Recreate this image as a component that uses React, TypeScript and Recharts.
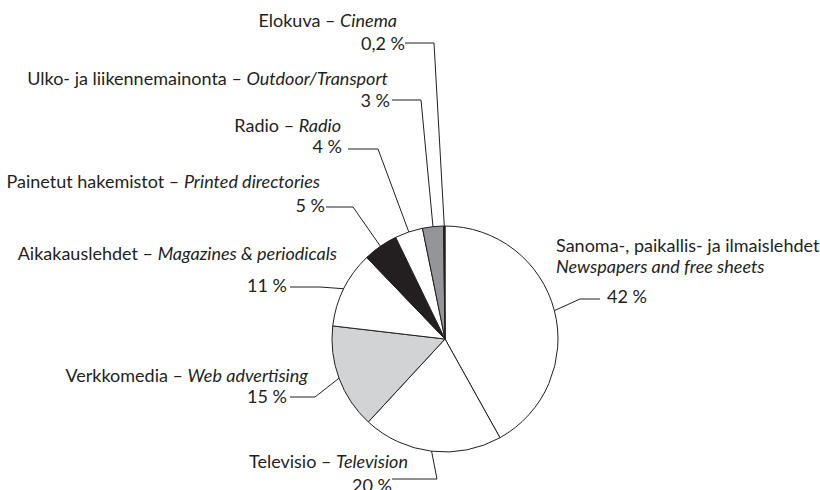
import React from 'react'
import { PieChart, Pie, Cell } from 'recharts'

const fiNames = [
  'Sanoma-, paikallis- ja ilmaislehdet',
  'Televisio',
  'Verkkomedia',
  'Aikakauslehdet',
  'Painetut hakemistot',
  'Radio',
  'Ulko- ja liikennemainonta',
  'Elokuva',
]
const enNames = [
  'Newspapers and free sheets',
  'Television',
  'Web advertising',
  'Magazines & periodicals',
  'Printed directories',
  'Radio',
  'Outdoor/Transport',
  'Cinema',
]
const shares = [42, 20, 15, 11, 5, 4, 3, 0.2]

const INK = '#231f20'
const sliceFills = ['#ffffff', '#ffffff', '#d1d3d4', '#ffffff', INK, '#ffffff', '#939598', INK]

// leader elbow (ex, ey), line end (lx), title anchor (tx, ty), percent anchor (px, py)
// all relative to the pie centre
const labelLayout = [
  { ex: 135, ey: -40, lx: 155, tx: 111, ty: -87, px: 162, py: -36, anchor: 'start', split: true },
  { ex: -8, ey: 140, lx: -53, tx: -37, ty: 129, px: -53, py: 153, anchor: 'end' },
  { ex: -130, ey: 58, lx: -155, tx: -137, ty: 43, px: -158, py: 64, anchor: 'end' },
  { ex: -125, ey: -52, lx: -155, tx: -108, ty: -79, px: -158, py: -47, anchor: 'end' },
  { ex: -92, ey: -132, lx: -119, tx: -125, ty: -151, px: -120, py: -127, anchor: 'end' },
  { ex: -67, ey: -190, lx: -97, tx: -104, ty: -207, px: -103, py: -186, anchor: 'end' },
  { ex: -24, ey: -239, lx: -53, tx: -57, ty: -254, px: -55, py: -232, anchor: 'end' },
  { ex: -11, ey: -296, lx: -40, tx: -48, ty: -312, px: -40, py: -289, anchor: 'end' },
]

const data = shares.map((value, i) => ({ name: fiNames[i], en: enNames[i], value }))

const FONT = 'Lato, "Open Sans", sans-serif'
const FS = 18
const RAD = Math.PI / 180

const fmtPct = (v: number) => `${String(v).replace('.', ',')} %`

const renderLabel = (props: any) => {
  const { cx, cy, midAngle, outerRadius, index } = props
  const l = labelLayout[index]
  const sx = cx + outerRadius * Math.cos(-midAngle * RAD)
  const sy = cy + outerRadius * Math.sin(-midAngle * RAD)
  const pts = `${sx},${sy} ${cx + l.ex},${cy + l.ey} ${cx + l.lx},${cy + l.ey}`
  const d = data[index]
  return (
    <g key={`lbl-${index}`}>
      <polyline points={pts} fill="none" stroke={INK} strokeWidth={1} />
      {l.split ? (
        <>
          <text x={cx + l.tx} y={cy + l.ty} textAnchor={l.anchor} fontSize={FS} fill={INK} fontFamily={FONT}>
            {d.name}
          </text>
          <text x={cx + l.tx} y={cy + l.ty + 21} textAnchor={l.anchor} fontSize={FS} fill={INK} fontFamily={FONT} fontStyle="italic">
            {d.en}
          </text>
        </>
      ) : (
        <text x={cx + l.tx} y={cy + l.ty} textAnchor={l.anchor} fontSize={FS} fill={INK} fontFamily={FONT}>
          <tspan>{`${d.name} – `}</tspan>
          <tspan fontStyle="italic">{d.en}</tspan>
        </text>
      )}
      <text x={cx + l.px} y={cy + l.py} textAnchor={l.anchor} fontSize={FS} fill={INK} fontFamily={FONT}>
        {fmtPct(d.value)}
      </text>
    </g>
  )
}

export default function App() {
  return (
    <div style={{ position: 'absolute', left: 0, top: 0, width: 820, height: 490, background: '#fff' }}>
      <PieChart width={820} height={490} margin={{ top: 0, right: 0, bottom: 0, left: 0 }}>
        <Pie
          data={data}
          dataKey="value"
          nameKey="name"
          cx={445}
          cy={339}
          outerRadius={113}
          startAngle={90}
          endAngle={-270}
          stroke={INK}
          strokeWidth={1}
          label={renderLabel}
          labelLine={false}
          isAnimationActive={false}
        >
          {data.map((d, i) => (
            <Cell key={d.name} fill={sliceFills[i]} stroke={INK} strokeWidth={1} />
          ))}
        </Pie>
      </PieChart>
    </div>
  )
}
